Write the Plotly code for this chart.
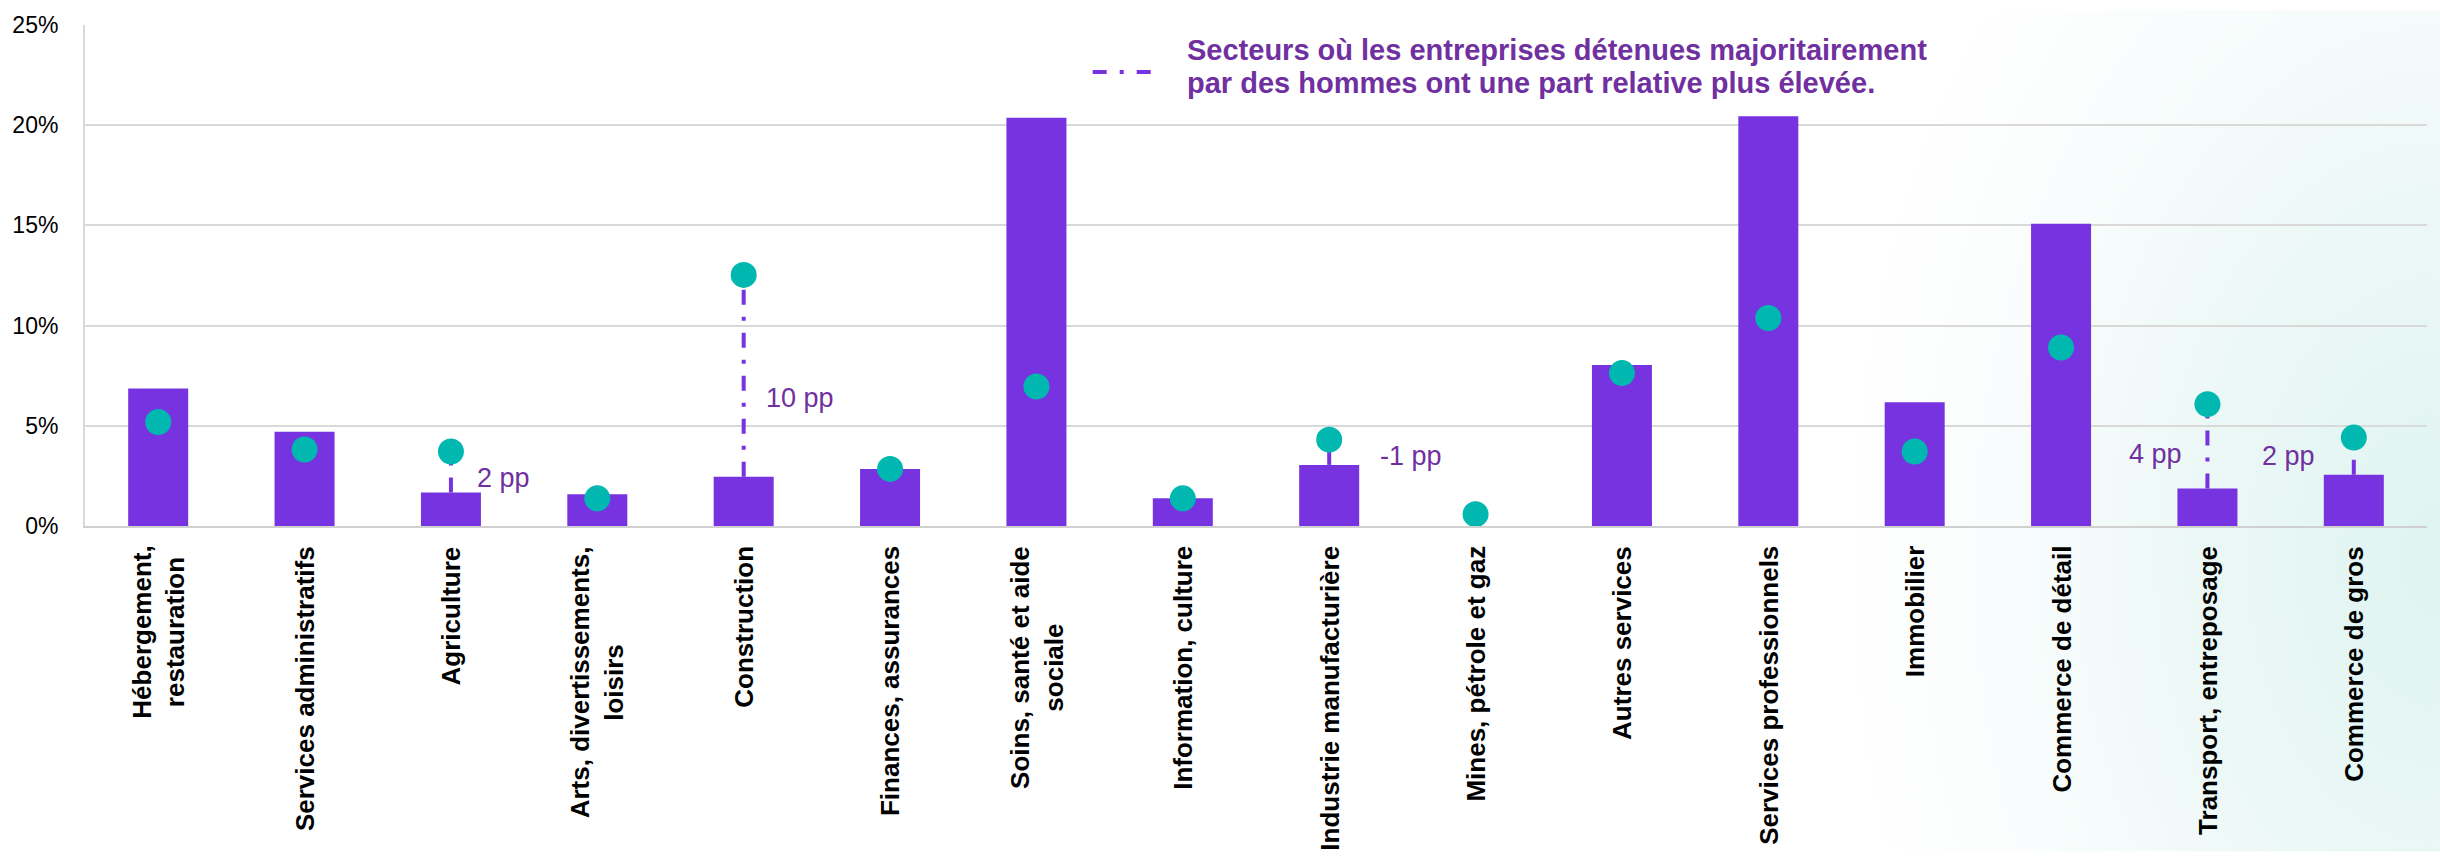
import base64
import plotly.graph_objects as go

# Secteurs (ordre d'affichage) et libellés de l'axe
secteurs = [
    "Hébergement,<br>restauration",
    "Services administratifs",
    "Agriculture",
    "Arts, divertissements,<br>loisirs",
    "Construction",
    "Finances, assurances",
    "Soins, santé et aide<br>sociale",
    "Information, culture",
    "Industrie manufacturière",
    "Mines, pétrole et gaz",
    "Autres services",
    "Services professionnels",
    "Immobilier",
    "Commerce de détail",
    "Transport, entreposage",
    "Commerce de gros",
]

# Répartition sectorielle (%) : entreprises détenues majoritairement par des femmes (barres)
part_femmes = [6.86, 4.70, 1.67, 1.58, 2.46, 2.85, 20.37, 1.38,
               3.05, 0.0, 8.04, 20.45, 6.18, 15.08, 1.87, 2.56]
# ... et par des hommes (points)
part_hommes = [5.19, 3.82, 3.72, 1.38, 12.53, 2.85, 6.96, 1.38,
               4.31, 0.59, 7.63, 10.38, 3.72, 8.91, 6.08, 4.41]

# Écarts annotés (secteur, texte)
ecarts_secteurs = ["Agriculture", "Construction", "Industrie manufacturière",
                   "Transport, entreposage", "Commerce de gros"]
ecarts_textes = ["2 pp", "10 pp", "-1 pp", "4 pp", "2 pp"]

yticks = [0, 5, 10, 15, 20, 25]
yticks_texte = ["0%", "5%", "10%", "15%", "20%", "25%"]

legende_lignes = [
    "Secteurs où les entreprises détenues majoritairement",
    "par des hommes ont une part relative plus élevée.",
]

# --- styles ---
VIOLET = "#7733E0"
VIOLET_TEXTE = "#7030A0"
TURQUOISE = "#00B8B0"
GRILLE = "#d9d9d9"
POLICE = "Liberation Sans, Arial, sans-serif"
DASH = "15px,12px,4px,12px"

W, H = 2440, 858
M_L, M_R, M_T, M_B = 82, 13, 15, 332
PW, PH = W - M_L - M_R, H - M_T - M_B

# placement des étiquettes d'écart : (côté, décalage px, hauteur en %)
placement_ecarts = [("left", 24, 2.4), ("left", 20, 6.4), ("left", 49, 3.5),
                    ("right", -23, 3.6), ("right", -37, 3.5)]

fig = go.Figure()

fig.add_trace(go.Bar(
    x=secteurs, y=part_femmes, width=0.41,
    marker=dict(color=VIOLET, line=dict(width=0)),
    showlegend=False, hoverinfo="x+y",
))

# traits reliant la barre au point
for nom in ecarts_secteurs:
    lib = next(s for s in secteurs if s.replace("<br>", " ") == nom)
    i = secteurs.index(lib)
    fig.add_trace(go.Scatter(
        x=[lib, lib], y=[part_femmes[i], part_hommes[i]], mode="lines",
        line=dict(color=VIOLET, width=4, dash=DASH),
        showlegend=False, hoverinfo="skip",
    ))

fig.add_trace(go.Scatter(
    x=secteurs, y=part_hommes, mode="markers",
    marker=dict(color=TURQUOISE, size=26, line=dict(width=0)),
    showlegend=False, hoverinfo="x+y",
))

annotations = []

# étiquettes d'écart en points de pourcentage
for nom, txt, (side, dx, yv) in zip(ecarts_secteurs, ecarts_textes, placement_ecarts):
    lib = next(s for s in secteurs if s.replace("<br>", " ") == nom)
    annotations.append(dict(
        x=lib, y=yv, xref="x", yref="y", text=txt, showarrow=False,
        xanchor=side, yanchor="middle", xshift=dx,
        font=dict(family=POLICE, size=27, color=VIOLET_TEXTE),
    ))

# libellés des secteurs, pivotés
for s in secteurs:
    annotations.append(dict(
        x=s, y=0, xref="x", yref="paper", text=s, showarrow=False,
        textangle=-90, xanchor="center", yanchor="top", yshift=-18,
        align="center",
        font=dict(family=POLICE, size=26, color="#000000", weight="bold"),
    ))

# légende : trait mixte + texte sur deux lignes
def px_x(px):
    return (px - M_L) / PW

def px_y(py):
    return (H - M_B - py) / PH

for py, ligne in zip([40, 74], legende_lignes):
    annotations.append(dict(
        x=px_x(1183), y=px_y(py), xref="paper", yref="paper", text=ligne,
        showarrow=False, xanchor="left", yanchor="middle",
        font=dict(family=POLICE, size=29, color=VIOLET_TEXTE, weight="bold"),
    ))

shapes = [dict(
    type="line", xref="paper", yref="paper",
    x0=px_x(1091), x1=px_x(1151), y0=px_y(63), y1=px_y(63),
    line=dict(color=VIOLET, width=4, dash="14px,13px,4px,13px"),
)]

# fond : halo turquoise pâle sur le bord droit
svg = (
    f"<svg xmlns='http://www.w3.org/2000/svg' width='{W}' height='{H}'>"
    "<defs><radialGradient id='g' gradientUnits='userSpaceOnUse' "
    f"cx='{W}' cy='560' r='600' "
    f"gradientTransform='translate({W} 560) scale(1 1.5) translate(-{W} -560)'>"
    "<stop offset='0' stop-color='#def4f0' stop-opacity='1'/>"
    "<stop offset='0.4' stop-color='#e9f7f5' stop-opacity='0.9'/>"
    "<stop offset='0.75' stop-color='#f3fafa' stop-opacity='0.5'/>"
    "<stop offset='1' stop-color='#f7fbfb' stop-opacity='0'/>"
    "</radialGradient></defs>"
    f"<rect width='{W}' height='{H}' fill='url(#g)'/></svg>"
)
src = "data:image/svg+xml;base64," + base64.b64encode(svg.encode()).decode()

fig.update_layout(
    width=W, height=H,
    margin=dict(l=M_L, r=M_R, t=M_T, b=M_B),
    paper_bgcolor="#ffffff",
    plot_bgcolor="rgba(0,0,0,0)",
    annotations=annotations,
    shapes=shapes,
    images=[dict(
        source=src, xref="paper", yref="paper",
        x=-M_L / PW, y=1 + M_T / PH, sizex=W / PW, sizey=H / PH,
        xanchor="left", yanchor="top", sizing="stretch", layer="below",
    )],
    xaxis=dict(
        type="category", range=[-0.5, len(secteurs) - 0.5],
        showticklabels=False, showgrid=False, zeroline=False,
        showline=True, linecolor="#d0d0d0", linewidth=2, ticks="",
    ),
    yaxis=dict(
        range=[0, 25], tickmode="array", tickvals=yticks, ticktext=yticks_texte,
        showgrid=True, gridcolor=GRILLE, gridwidth=2, zeroline=False,
        showline=True, linecolor=GRILLE, linewidth=2, ticks="",
        ticklabelstandoff=20,
        tickfont=dict(family=POLICE, size=23, color="#000000"),
    ),
)

fig.write_html("out.html")
